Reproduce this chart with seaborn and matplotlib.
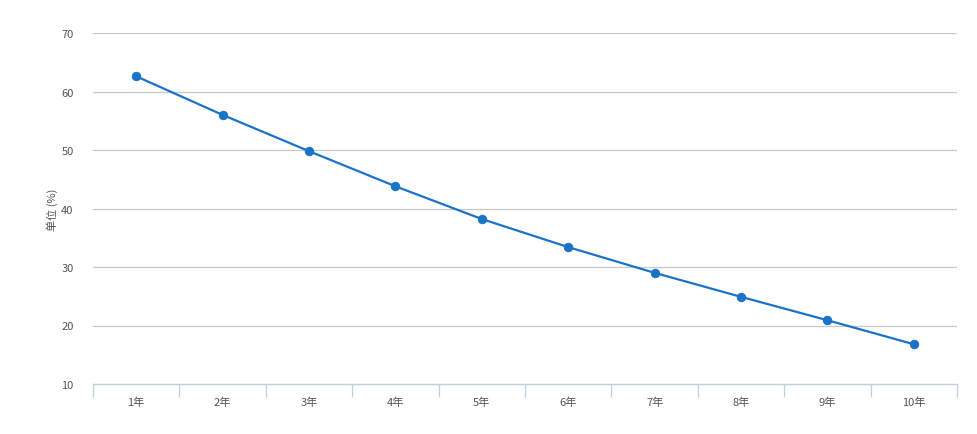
import matplotlib
matplotlib.use("Agg")
import matplotlib.pyplot as plt
import seaborn as sns
import numpy as np
import pandas as pd

years = ["1年", "2年", "3年", "4年", "5年", "6年", "7年", "8年", "9年", "10年"]
values = [62.6, 56.0, 49.8, 43.8, 38.2, 33.4, 29.0, 24.9, 20.9, 16.8]
y_ticks = [10, 20, 30, 40, 50, 60, 70]


def main():
    sns.set_style("white")
    plt.rcParams['font.family'] = ['Noto Sans CJK SC', 'DejaVu Sans']

    df = pd.DataFrame({"year": years, "value": values})

    fig = plt.figure(figsize=(9.78, 4.35), dpi=100)
    ax = fig.add_axes([93 / 978, 1 - 385 / 435, (957 - 93) / 978, (385 - 34) / 435])

    sns.lineplot(data=df, x="year", y="value", ax=ax, color="#1a73c9",
                 linewidth=1.6, marker="o", markersize=6,
                 markeredgecolor="#1a73c9", sort=False, zorder=3)

    ax.set_ylim(10, 70)
    ax.set_xlim(-0.5, len(years) - 0.5)
    ax.set_yticks(y_ticks)
    ax.set_yticklabels([str(t) for t in y_ticks], color="#555555", fontsize=8)
    for t in y_ticks[1:]:
        ax.axhline(t, color="#c8c8c8", linewidth=0.9, zorder=1)

    ax.set_xticks(np.arange(len(years)))
    ax.set_xticklabels(years, color="#555555", fontsize=8)
    ax.set_xticks(np.arange(len(years) + 1) - 0.5, minor=True)
    ax.tick_params(axis="x", which="major", length=0, pad=9)
    ax.tick_params(axis="x", which="minor", bottom=True, length=9,
                   color="#c0d0e0", width=0.9, direction="out")
    ax.tick_params(axis="y", length=0, pad=14)

    for side in ["top", "right", "left"]:
        ax.spines[side].set_visible(False)
    ax.spines["bottom"].set_color("#c0d0e0")
    ax.spines["bottom"].set_linewidth(1.0)

    ax.set_xlabel("")
    ax.set_ylabel("单位 (%)", color="#555555", fontsize=8, labelpad=2)

    plt.savefig("out.png", dpi=100)


if __name__ == "__main__":
    main()
